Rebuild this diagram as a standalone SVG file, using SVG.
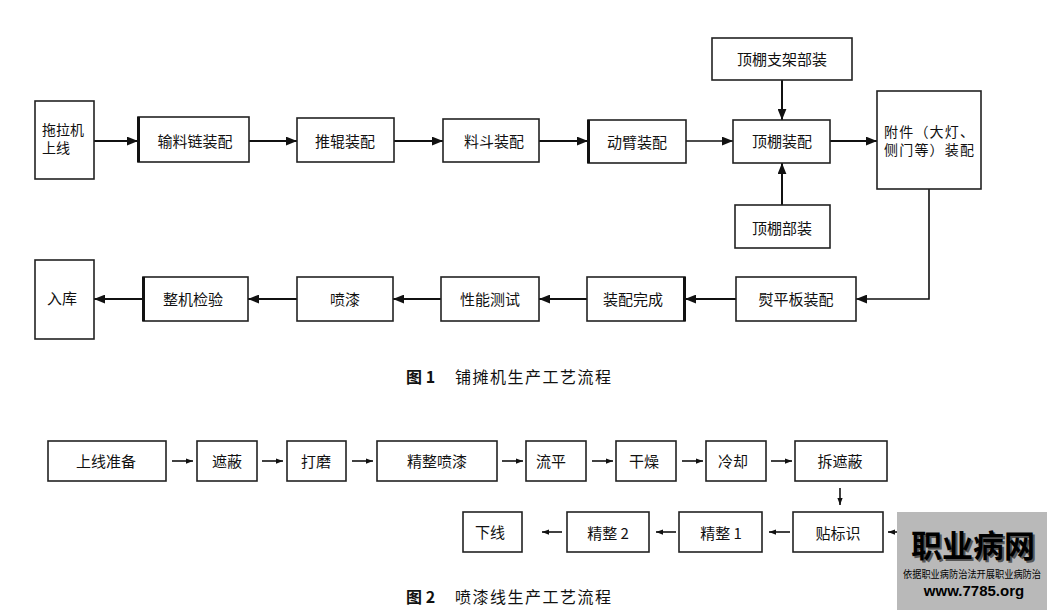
<svg xmlns="http://www.w3.org/2000/svg" width="1052" height="615" viewBox="0 0 1052 615">
<style>
.box{fill:#fff;stroke:#222;stroke-width:1.6}
.thk{stroke:#111;stroke-width:3}
.t{font-family:"Noto Sans CJK SC","Noto Sans",sans-serif;font-size:15px;fill:#111;text-anchor:middle;dominant-baseline:central}
.tl{font-family:"Noto Sans CJK SC","Noto Sans",sans-serif;font-size:14px;fill:#111;dominant-baseline:central}
.c{fill:none;stroke:#111;stroke-width:2}
.c2{fill:none;stroke:#111;stroke-width:1.6}
.cap{font-family:"Noto Sans CJK SC","Noto Sans",sans-serif;font-size:16px;fill:#111;dominant-baseline:central}
</style>
<defs>
<marker id="ah" viewBox="0 0 10 8" refX="10" refY="4" markerWidth="11" markerHeight="9" markerUnits="userSpaceOnUse" orient="auto">
<path d="M0,0 L10,4 L0,8 Z" fill="#111"/>
</marker>
<marker id="sh" viewBox="0 0 8 6" refX="8" refY="3" markerWidth="7" markerHeight="6" markerUnits="userSpaceOnUse" orient="auto">
<path d="M0,0 L8,3 L0,6 Z" fill="#111"/>
</marker>
</defs>
<rect width="1052" height="615" fill="#fff"/>

<g id="connectors">
<line class="c" x1="94" y1="141" x2="138" y2="141" marker-end="url(#ah)"/>
<line class="c" x1="249" y1="141" x2="297" y2="141" marker-end="url(#ah)"/>
<line class="c" x1="394" y1="141" x2="443" y2="141" marker-end="url(#ah)"/>
<line class="c" x1="539" y1="141" x2="588" y2="141" marker-end="url(#ah)"/>
<line class="c2" x1="686" y1="141" x2="733" y2="141" marker-end="url(#ah)"/>
<line class="c" x1="782" y1="80" x2="782" y2="120" marker-end="url(#ah)"/>
<line class="c" x1="782" y1="205" x2="782" y2="163" marker-end="url(#ah)"/>
<line class="c" x1="830" y1="141" x2="877" y2="141" marker-end="url(#ah)"/>
<polyline class="c2" points="929,189 929,299 856,299" marker-end="url(#ah)"/>
<line class="c" x1="736" y1="299" x2="685" y2="299" marker-end="url(#ah)"/>
<line class="c" x1="587" y1="299" x2="539" y2="299" marker-end="url(#ah)"/>
<line class="c" x1="441" y1="299" x2="393" y2="299" marker-end="url(#ah)"/>
<line class="c" x1="297" y1="299" x2="248" y2="299" marker-end="url(#ah)"/>
<line class="c" x1="143" y1="299" x2="94" y2="299" marker-end="url(#ah)"/>

<line class="c2" x1="172" y1="461" x2="193" y2="461" marker-end="url(#sh)"/>
<line class="c2" x1="262" y1="461" x2="283" y2="461" marker-end="url(#sh)"/>
<line class="c2" x1="352" y1="461" x2="373" y2="461" marker-end="url(#sh)"/>
<line class="c2" x1="502" y1="461" x2="523" y2="461" marker-end="url(#sh)"/>
<line class="c2" x1="592" y1="461" x2="613" y2="461" marker-end="url(#sh)"/>
<line class="c2" x1="682" y1="461" x2="703" y2="461" marker-end="url(#sh)"/>
<line class="c2" x1="771" y1="461" x2="792" y2="461" marker-end="url(#sh)"/>
<line class="c2" x1="840" y1="488" x2="840" y2="505" marker-end="url(#sh)"/>
<line class="c2" x1="905" y1="532" x2="888" y2="532" marker-end="url(#sh)"/>
<line class="c2" x1="790" y1="532" x2="769" y2="532" marker-end="url(#sh)"/>
<line class="c2" x1="676" y1="532" x2="656" y2="532" marker-end="url(#sh)"/>
<line class="c2" x1="562" y1="532" x2="542" y2="532" marker-end="url(#sh)"/>
</g>

<g id="n1"><rect class="box" x="35" y="101" width="59" height="78"/><text class="tl" x="42" y="129">拖拉机</text><text class="tl" x="42" y="147">上线</text></g>
<g id="n2"><rect class="box" x="138" y="117" width="111" height="45"/><line class="thk" x1="138.5" y1="117" x2="138.5" y2="162"/><text class="t" x="195" y="140">输料链装配</text></g>
<g id="n3"><rect class="box" x="297" y="118" width="97" height="44"/><text class="t" x="345" y="140">推辊装配</text></g>
<g id="n4"><rect class="box" x="443" y="119" width="96" height="43"/><text class="t" x="494" y="140">料斗装配</text></g>
<g id="n5"><rect class="box" x="588" y="120" width="98" height="43"/><line class="thk" x1="588.5" y1="120" x2="588.5" y2="163"/><text class="t" x="637" y="141">动臂装配</text></g>
<g id="n6"><rect class="box" x="712" y="38" width="140" height="42"/><text class="t" x="782" y="58">顶棚支架部装</text></g>
<g id="n7"><rect class="box" x="733" y="120" width="97" height="43"/><text class="t" x="782" y="140">顶棚装配</text></g>
<g id="n8"><rect class="box" x="735" y="205" width="95" height="43"/><text class="t" x="782" y="227">顶棚部装</text></g>
<g id="n9"><rect class="box" x="877" y="91" width="104" height="98"/><text class="tl" x="884" y="131" textLength="90" lengthAdjust="spacing">附件（大灯、</text><text class="tl" x="884" y="149" textLength="90" lengthAdjust="spacing">侧门等）装配</text></g>
<g id="n10"><rect class="box" x="736" y="277" width="120" height="44"/><text class="t" x="796" y="298">熨平板装配</text></g>
<g id="n11"><rect class="box" x="587" y="277" width="98" height="44"/><line class="thk" x1="684.5" y1="277" x2="684.5" y2="321"/><text class="t" x="633" y="298">装配完成</text></g>
<g id="n12"><rect class="box" x="441" y="277" width="98" height="44"/><text class="t" x="490" y="298">性能测试</text></g>
<g id="n13"><rect class="box" x="297" y="277" width="96" height="44"/><text class="t" x="345" y="298">喷漆</text></g>
<g id="n14"><rect class="box" x="143" y="277" width="105" height="44"/><line class="thk" x1="143.5" y1="277" x2="143.5" y2="321"/><text class="t" x="193" y="298">整机检验</text></g>
<g id="n15"><rect class="box" x="35" y="260" width="59" height="79"/><text class="t" x="62" y="297">入库</text></g>

<text class="cap" x="406" y="376" font-weight="bold">图 1</text>
<text class="cap" x="455" y="376" letter-spacing="1.5">铺摊机生产工艺流程</text>

<g id="m1"><rect class="box" x="48" y="441" width="118" height="40"/><text class="t" x="106" y="460">上线准备</text></g>
<g id="m2"><rect class="box" x="197" y="441" width="60" height="40"/><text class="t" x="227" y="460">遮蔽</text></g>
<g id="m3"><rect class="box" x="287" y="441" width="59" height="40"/><text class="t" x="316" y="460">打磨</text></g>
<g id="m4"><rect class="box" x="377" y="441" width="120" height="40"/><text class="t" x="437" y="460">精整喷漆</text></g>
<g id="m5"><rect class="box" x="526" y="441" width="60" height="40"/><text class="t" x="551" y="460">流平</text></g>
<g id="m6"><rect class="box" x="616" y="441" width="60" height="40"/><text class="t" x="644" y="460">干燥</text></g>
<g id="m7"><rect class="box" x="706" y="441" width="60" height="40"/><text class="t" x="733" y="460">冷却</text></g>
<g id="m8"><rect class="box" x="795" y="441" width="92" height="40"/><text class="t" x="840" y="460">拆遮蔽</text></g>
<g id="m9"><rect class="box" x="793" y="512" width="90" height="40"/><text class="t" x="838" y="532">贴标识</text></g>
<g id="m10"><rect class="box" x="679" y="512" width="83" height="40"/><text class="t" x="721" y="532">精整 1</text></g>
<g id="m11"><rect class="box" x="567" y="512" width="82" height="40"/><text class="t" x="608" y="532">精整 2</text></g>
<g id="m12"><rect class="box" x="463" y="512" width="59" height="40"/><text class="t" x="490" y="531">下线</text></g>

<text class="cap" x="406" y="596" font-weight="bold">图 2</text>
<text class="cap" x="455" y="596" letter-spacing="1.5">喷漆线生产工艺流程</text>

<g id="watermark">
<rect x="897" y="512" width="150" height="98" fill="#b9b9b9"/>
<text x="973" y="543" font-family="'Noto Sans CJK SC',sans-serif" font-size="31" font-weight="bold" fill="#555" text-anchor="middle" dominant-baseline="central" transform="translate(2,2)">职业病网</text>
<text x="973" y="543" font-family="'Noto Sans CJK SC',sans-serif" font-size="31" font-weight="bold" fill="#000" text-anchor="middle" dominant-baseline="central">职业病网</text>
<text x="972" y="573" font-family="'Noto Sans CJK SC',sans-serif" font-size="10" fill="#000" text-anchor="middle" dominant-baseline="central" textLength="138" lengthAdjust="spacingAndGlyphs">依据职业病防治法开展职业病防治</text>
<text x="974" y="590" font-family="'Liberation Sans',Arial,sans-serif" font-size="15" font-weight="bold" fill="#000" text-anchor="middle" dominant-baseline="central">www.7785.org</text>
</g>
</svg>
